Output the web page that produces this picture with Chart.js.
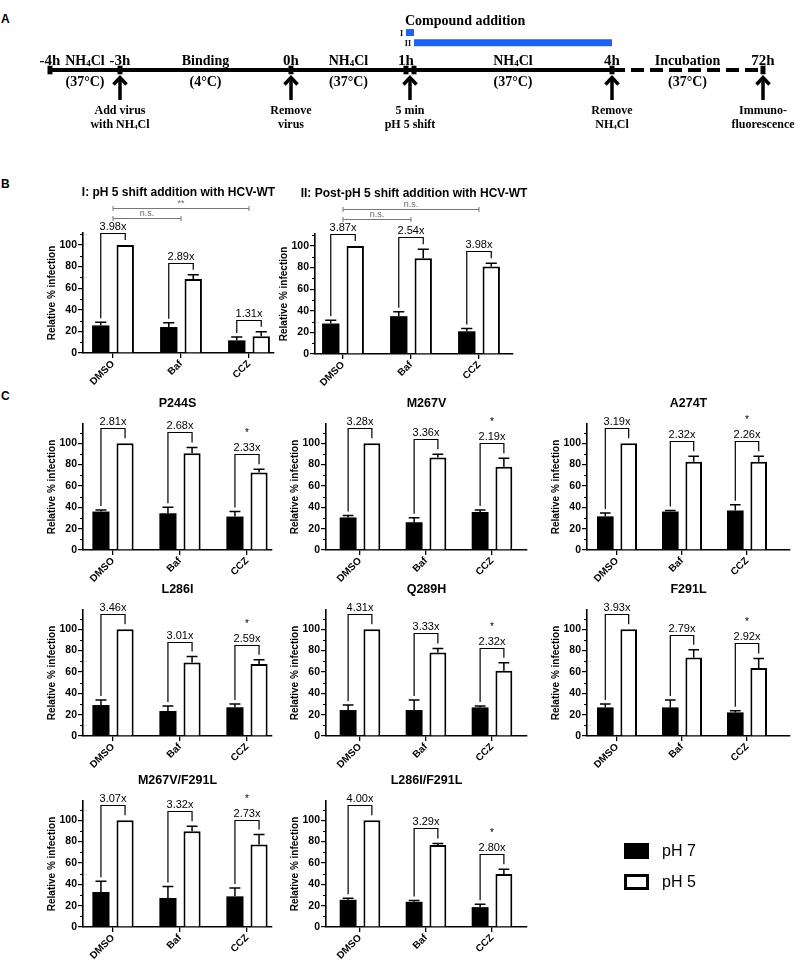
<!DOCTYPE html>
<html>
<head>
<meta charset="utf-8">
<title>pH 5 shift</title>
<script src="https://cdn.jsdelivr.net/npm/chart.js@4.4.1/dist/chart.umd.min.js"></script>
<style>
  body { margin: 0; background: #fff; }
  #fig { position: relative; width: 800px; height: 960px; overflow: hidden; background: #fff; }
  #fig canvas { position: absolute; }
  .panel { position: absolute; font: bold 12px "Liberation Sans", Arial, sans-serif; color: #000; }
</style>
</head>
<body>
<div id="fig">
  <div class="panel" style="left:1px;top:12px">A</div>
  <div class="panel" style="left:1px;top:177px">B</div>
  <div class="panel" style="left:1px;top:389px">C</div>
</div>
<script>
var SANS = '"Liberation Sans", Arial, sans-serif';
var SERIF = '"Liberation Serif", "Times New Roman", serif';

// ---- panel A : timeline ----
var stageLabels = ["-4h", "-3h", "0h", "1h", "", "4h", "72h"];
var stagePos = [0, 0.7, 2.41, 3.56, 3.64, 5.62, 7.13]; // schematic time axis
var phaseNames = ["NH4Cl", "Binding", "NH4Cl", "NH4Cl", "Incubation"];
var phaseTemps = ["(37°C)", "(4°C)", "(37°C)", "(37°C)", "(37°C)"];
var phaseFrom = [0, 1, 2, 4, 5];
var phaseTo = [1, 2, 3, 5, 6];
var eventStages = [[1], [2], [3, 4], [5], [6]];
var eventText = [
  ["Add virus", "with NH4Cl"],
  ["Remove", "virus"],
  ["5 min", "pH 5 shift"],
  ["Remove", "NH4Cl"],
  ["Immuno-", "fluorescence"]
];
var compoundNames = ["I", "II"];
var compoundFrom = [3, 4];
var compoundTo = [4, 5];

// ---- panels B and C : bar charts ----
var treatments = ["DMSO", "Baf", "CCZ"];
var seriesNames = ["pH 7", "pH 5"];

var titlesB = ["I: pH 5 shift addition with HCV-WT", "II: Post-pH 5 shift addition with HCV-WT"];
var ph7B = [[25.5, 24, 11.7], [28.2, 35, 21]];
var ph7ErrB = [[3, 4, 3], [3, 4, 2.5]];
var ph5B = [[100, 68.4, 15.6], [100, 88.5, 81]];
var ph5ErrB = [[0, 4, 4.1], [0, 8.5, 3]];
var foldB = [["3.98x", "2.89x", "1.31x"], ["3.87x", "2.54x", "3.98x"]];
var sigPairsB = [[0, 1], [0, 2]];
var sigLabelsB = [["n.s.", "**"], ["n.s.", "n.s."]];

var mutants = ["P244S", "M267V", "A274T", "L286I", "Q289H", "F291L", "M267V/F291L", "L286I/F291L"];
var ph7C = [
  [36, 34.4, 31.3],
  [30.5, 26, 35.6],
  [31.5, 36, 37],
  [29, 23.4, 26.9],
  [24.3, 24.3, 26.8],
  [26.8, 26.8, 22.1],
  [32.8, 27.2, 28.7],
  [25.5, 23.6, 18.6]
];
var ph7ErrC = [
  [1.5, 5.6, 4.7],
  [1.8, 4.2, 1.8],
  [3.2, 1, 5.4],
  [4.8, 4.6, 3.1],
  [4.7, 9.3, 1.2],
  [3.2, 6.8, 1.6],
  [10, 10.8, 7.9],
  [1.5, 1.2, 2.8]
];
var ph5C = [
  [100, 90.6, 72.5],
  [100, 86.6, 78],
  [100, 82.6, 82.6],
  [100, 68.8, 67.5],
  [100, 78.2, 61],
  [100, 73.5, 63.6],
  [100, 89.7, 77.2],
  [100, 76.7, 49.7]
];
var ph5ErrC = [
  [0, 5.4, 3.1],
  [0, 3, 8],
  [0, 5.2, 5.2],
  [0, 5.6, 3.8],
  [0, 3.8, 7.5],
  [0, 7.2, 9],
  [0, 4.7, 9.4],
  [0, 1.6, 4.3]
];
var foldC = [
  ["2.81x", "2.68x", "2.33x"],
  ["3.28x", "3.36x", "2.19x"],
  ["3.19x", "2.32x", "2.26x"],
  ["3.46x", "3.01x", "2.59x"],
  ["4.31x", "3.33x", "2.32x"],
  ["3.93x", "2.79x", "2.92x"],
  ["3.07x", "3.32x", "2.73x"],
  ["4.00x", "3.29x", "2.80x"]
];
var starC = ["", "", "*"];

// ---- layout (page pixels) ----
var layoutB = [
  { axisX: 83, cat0: 113, step: 68, end: 274, y0: 353, px100: 108, max: 111 },
  { axisX: 315, cat0: 343, step: 68, end: 513, y0: 354, px100: 108, max: 111 }
];
var colsC = [
  { axisX: 83, cat0: 113, step: 67, end: 272 },
  { axisX: 326, cat0: 360, step: 66, end: 527 },
  { axisX: 587, cat0: 617, step: 65, end: 790 }
];
var rowsC = [550, 736, 927];

var BLUE = "#1d63f2";

function chemParts(s) {
  //split NH4Cl so the 4 can be drawn as subscript
  var i = s.indexOf("NH4Cl");
  if (i < 0) return [[s, false]];
  return [[s.slice(0, i) + "NH", false], ["4", true], ["Cl" + s.slice(i + 5), false]];
}

function drawRich(ctx, s, x, y, size, align) {
  var parts = chemParts(s);
  var big = "bold " + size + "px " + SERIF;
  var small = "bold " + Math.round(size * 0.62) + "px " + SERIF;
  var w = 0;
  parts.forEach(function (p) {
    ctx.font = p[1] ? small : big;
    w += ctx.measureText(p[0]).width;
  });
  var cx = align == "left" ? x : align == "right" ? x - w : x - w / 2;
  ctx.textAlign = "left";
  ctx.textBaseline = "alphabetic";
  parts.forEach(function (p) {
    ctx.font = p[1] ? small : big;
    ctx.fillText(p[0], cx, y + (p[1] ? 1 : 0));
    cx += ctx.measureText(p[0]).width;
  });
}

function drawArrow(ctx, x, yTop, yBot) {
  ctx.strokeStyle = "#000";
  ctx.lineWidth = 3.5;
  ctx.lineCap = "butt";
  ctx.lineJoin = "miter";
  ctx.beginPath();
  ctx.moveTo(x, yTop + 2);
  ctx.lineTo(x, yBot);
  ctx.stroke();
  ctx.beginPath();
  ctx.moveTo(x - 6.5, yTop + 8.5);
  ctx.lineTo(x, yTop + 1.5);
  ctx.lineTo(x + 6.5, yTop + 8.5);
  ctx.stroke();
}

function addCanvas(left, top, w, h) {
  var cv = document.createElement("canvas");
  cv.width = w;
  cv.height = h;
  cv.style.left = left + "px";
  cv.style.top = top + "px";
  document.getElementById("fig").appendChild(cv);
  return cv;
}

function makeTimeline() {
  var cv = addCanvas(0, 0, 800, 140);
  var solid = stagePos.slice(0, 6).map(function (p) { return { x: p, y: 0 }; });
  var dashed = [{ x: stagePos[5], y: 0 }, { x: stagePos[6], y: 0 }];
  var laneLevel = [1.07, 0.78]; // rows above the time line
  var datasets = [
    { data: solid, borderColor: "#000", borderWidth: 4, pointStyle: "line", rotation: 90,
      pointRadius: 4.3, pointBorderWidth: 5, pointBorderColor: "#000" },
    { data: dashed, borderColor: "#000", borderWidth: 4, borderDash: [13, 6], pointStyle: "line", rotation: 90,
      pointRadius: [0, 4.3], pointBorderWidth: 5, pointBorderColor: "#000" }
  ];
  compoundNames.forEach(function (n, k) {
    datasets.push({
      data: [{ x: stagePos[compoundFrom[k]], y: laneLevel[k] }, { x: stagePos[compoundTo[k]], y: laneLevel[k] }],
      borderColor: BLUE, borderWidth: 7, borderCapStyle: "butt", pointRadius: 0
    });
  });

  var timelineText = {
    id: "timelineText",
    afterDraw: function (chart) {
      var ctx = chart.ctx;
      var xs = chart.scales.x, ys = chart.scales.y;
      var lineY = ys.getPixelForValue(0);
      ctx.save();
      ctx.fillStyle = "#000";
      stageLabels.forEach(function (t, i) {
        if (!t) return;
        drawRich(ctx, t, xs.getPixelForValue(stagePos[i]), lineY - 5.5, 15);
      });
      phaseNames.forEach(function (t, i) {
        var px = xs.getPixelForValue((stagePos[phaseFrom[i]] + stagePos[phaseTo[i]]) / 2);
        drawRich(ctx, t, px, lineY - 5.5, 14);
        drawRich(ctx, phaseTemps[i], px, lineY + 16, 14);
      });
      eventStages.forEach(function (st, i) {
        var v = 0;
        st.forEach(function (s) { v += stagePos[s]; });
        var px = xs.getPixelForValue(v / st.length);
        drawArrow(ctx, px, lineY + 6, lineY + 30);
        drawRich(ctx, eventText[i][0], px, lineY + 43.5, 12);
        drawRich(ctx, eventText[i][1], px, lineY + 57.5, 12);
      });
      drawRich(ctx, "Compound addition", xs.getPixelForValue(stagePos[compoundFrom[0]]) - 1, lineY - 45.5, 14, "left");
      compoundNames.forEach(function (n, k) {
        var px = xs.getPixelForValue(stagePos[compoundFrom[k]]);
        drawRich(ctx, n, px - 3, ys.getPixelForValue(laneLevel[k]) + 3, 8, "right");
      });
      ctx.restore();
    }
  };

  new Chart(cv.getContext("2d"), {
    type: "line",
    data: { datasets: datasets },
    options: {
      responsive: false,
      animation: false,
      layout: { padding: 0, autoPadding: false },
      plugins: { legend: { display: false }, tooltip: { enabled: false } },
      scales: {
        x: { type: "linear", min: -0.5, max: 7.5, display: false },
        y: { min: -2, max: 2, display: false }
      }
    },
    plugins: [timelineText]
  });
}

function marksPlugin(spec) {
  //error bars, fold-change brackets, significance lines, titles, legend
  return {
    id: "marks",
    afterDraw: function (chart) {
      var ctx = chart.ctx;
      var ca = chart.chartArea;
      var xs = chart.scales.x, ys = chart.scales.y;
      var m0 = chart.getDatasetMeta(0), m1 = chart.getDatasetMeta(1);
      ctx.save();
      ctx.strokeStyle = "#000";
      ctx.fillStyle = "#000";

      // minor ticks on y axis
      ctx.lineWidth = 1.2;
      ctx.beginPath();
      for (var v = 10; v <= spec.max; v += 20) {
        var ty = Math.round(ys.getPixelForValue(v)) + 0.5;
        ctx.moveTo(ca.left, ty);
        ctx.lineTo(ca.left - 3, ty);
      }
      ctx.stroke();

      // error bars (upper only)
      [[m0, spec.ph7, spec.ph7Err], [m1, spec.ph5, spec.ph5Err]].forEach(function (s) {
        s[0].data.forEach(function (bar, i) {
          var e = s[2][i];
          if (!e) return;
          var top = ys.getPixelForValue(s[1][i] + e);
          var cap = bar.width * 0.32;
          ctx.lineWidth = 1.5;
          ctx.beginPath();
          ctx.moveTo(bar.x, bar.y);
          ctx.lineTo(bar.x, top);
          ctx.moveTo(bar.x - cap, top);
          ctx.lineTo(bar.x + cap, top);
          ctx.stroke();
        });
      });

      // fold change brackets
      ctx.textAlign = "center";
      ctx.textBaseline = "middle";
      treatments.forEach(function (t, i) {
        var b = m0.data[i], w = m1.data[i];
        var bTop = ys.getPixelForValue(spec.ph7[i] + spec.ph7Err[i]);
        var wTop = ys.getPixelForValue(spec.ph5[i] + spec.ph5Err[i]);
        var by = Math.round(Math.min(bTop, wTop) - spec.bracketGap) + 0.5;
        ctx.lineWidth = 1.2;
        ctx.beginPath();
        ctx.moveTo(b.x, bTop - 4);
        ctx.lineTo(b.x, by);
        ctx.lineTo(w.x, by);
        ctx.lineTo(w.x, wTop - 5);
        ctx.stroke();
        ctx.font = "11px " + SANS;
        ctx.fillText(spec.fold[i], (b.x + w.x) / 2, by - 7);
        if (spec.star && spec.star[i]) {
          ctx.font = "10px " + SANS;
          ctx.fillText(spec.star[i], (b.x + w.x) / 2, by - 21);
        }
      });

      // significance lines between treatments
      if (spec.sigPairs) {
        spec.sigPairs.forEach(function (p, k) {
          var ly = Math.round(ca.top - 15 - 10 * k) + 0.5;
          var x1 = xs.getPixelForValue(p[0]), x2 = xs.getPixelForValue(p[1]);
          ctx.strokeStyle = "#777";
          ctx.lineWidth = 1;
          ctx.beginPath();
          ctx.moveTo(x1, ly);
          ctx.lineTo(x2, ly);
          ctx.moveTo(x1, ly - 2.5);
          ctx.lineTo(x1, ly + 2.5);
          ctx.moveTo(x2, ly - 2.5);
          ctx.lineTo(x2, ly + 2.5);
          ctx.stroke();
          ctx.fillStyle = "#666";
          ctx.font = "9px " + SANS;
          ctx.fillText(spec.sigLabels[k], (x1 + x2) / 2, ly - 4.5);
        });
      }

      // chart title
      ctx.fillStyle = "#000";
      ctx.font = "bold " + spec.titleSize + "px " + SANS;
      ctx.fillText(spec.title, (ca.left + ca.right) / 2, ca.top - spec.titleGap);

      // legend
      if (spec.legend) {
        var lx = ca.right + 97;
        var rows = [ca.bottom - 84, ca.bottom - 53];
        chart.data.datasets.forEach(function (ds, k) {
          ctx.fillStyle = ds.backgroundColor;
          ctx.fillRect(lx, rows[k], 25, 16);
          if (ds.borderWidth) {
            ctx.strokeStyle = ds.borderColor;
            ctx.lineWidth = 3;
            ctx.strokeRect(lx + 1.5, rows[k] + 1.5, 22, 13);
          }
          ctx.fillStyle = "#000";
          ctx.font = "16px " + SANS;
          ctx.textAlign = "left";
          ctx.fillText(ds.label, lx + 38, rows[k] + 8.5);
        });
      }
      ctx.restore();
    }
  };
}

function makeBarChart(spec) {
  var L = spec.layout;
  var AXW = 45, AXH = 45;
  var plotW = L.end - L.axisX;
  var plotH = Math.round(L.px100 * L.max / 100);
  var padR = L.padRight || 8;
  var cv = addCanvas(L.axisX - AXW, L.y0 - plotH - L.padTop, AXW + plotW + padR, L.padTop + plotH + AXH + 2);
  var xMin = -(L.cat0 - L.axisX) / L.step;
  var xMax = 2 + (L.end - L.cat0 - 2 * L.step) / L.step;
  spec.max = L.max;
  var tickFont = { family: SANS, size: 10.5, weight: "bold" };

  new Chart(cv.getContext("2d"), {
    type: "bar",
    data: {
      datasets: [
        {
          label: seriesNames[0],
          data: spec.ph7.map(function (v, i) { return { x: i, y: v }; }),
          backgroundColor: "#000",
          borderColor: "#000",
          borderWidth: 0
        },
        {
          label: seriesNames[1],
          data: spec.ph5.map(function (v, i) { return { x: i, y: v }; }),
          backgroundColor: "#fff",
          borderColor: "#000",
          borderWidth: 2
        }
      ]
    },
    options: {
      responsive: false,
      animation: false,
      datasets: { bar: { categoryPercentage: 0.72, barPercentage: 0.71 } },
      layout: { padding: { top: L.padTop, left: 0, right: padR, bottom: 2 } },
      plugins: { legend: { display: false }, tooltip: { enabled: false }, title: { display: false } },
      scales: {
        x: {
          type: "linear",
          min: xMin,
          max: xMax,
          bounds: "data",
          offset: false,
          z: 1,
          afterBuildTicks: function (s) {
            s.ticks = treatments.map(function (t, i) { return { value: i }; });
          },
          afterFit: function (s) { s.height = AXH; },
          grid: { display: true, offset: false, drawOnChartArea: false, drawTicks: true, tickLength: 5, color: "#000", lineWidth: 1.3 },
          border: { display: true, color: "#000", width: 1.6 },
          ticks: {
            autoSkip: false,
            minRotation: 45,
            maxRotation: 45,
            padding: 0,
            color: "#000",
            font: { family: SANS, size: 10, weight: "bold" },
            callback: function (v) { return treatments[v]; }
          }
        },
        y: {
          min: 0,
          max: L.max,
          bounds: "data",
          z: 1,
          afterBuildTicks: function (s) {
            s.ticks = s.ticks.filter(function (t) { return t.value % 20 == 0; });
          },
          afterFit: function (s) { s.width = AXW; },
          grid: { display: true, drawOnChartArea: false, drawTicks: true, tickLength: 5, color: "#000", lineWidth: 1.2 },
          border: { display: true, color: "#000", width: 1.6 },
          ticks: { stepSize: 20, padding: 1, color: "#000", font: tickFont },
          title: {
            display: true,
            text: "Relative % infection",
            color: "#000",
            font: { family: SANS, size: 10, weight: "bold" },
            padding: { top: 8, bottom: 0 }
          }
        }
      }
    },
    plugins: [marksPlugin(spec)]
  });
}

makeTimeline();

// panel B
for (var b = 0; b < 2; b++) {
  var lb = layoutB[b];
  lb.padTop = 50;
  lb.padRight = 40;
  makeBarChart({
    layout: lb,
    title: titlesB[b],
    titleSize: 12,
    titleGap: 40,
    bracketGap: 12,
    ph7: ph7B[b], ph7Err: ph7ErrB[b], ph5: ph5B[b], ph5Err: ph5ErrB[b],
    fold: foldB[b],
    sigPairs: sigPairsB,
    sigLabels: sigLabelsB[b]
  });
}

// panel C
for (var m = 0; m < mutants.length; m++) {
  var col = colsC[m % 3];
  var lay = {
    axisX: col.axisX, cat0: col.cat0, step: col.step, end: col.end,
    y0: rowsC[Math.floor(m / 3)], px100: 107, max: 118, padTop: 36
  };
  var isLast = m == mutants.length - 1;
  if (isLast) lay.padRight = 800 - (col.axisX - 45) - 45 - (col.end - col.axisX);
  makeBarChart({
    layout: lay,
    title: mutants[m],
    titleSize: 12.5,
    titleGap: 20,
    bracketGap: 15,
    ph7: ph7C[m], ph7Err: ph7ErrC[m], ph5: ph5C[m], ph5Err: ph5ErrC[m],
    fold: foldC[m],
    star: starC,
    legend: isLast
  });
}
</script>
</body>
</html>
